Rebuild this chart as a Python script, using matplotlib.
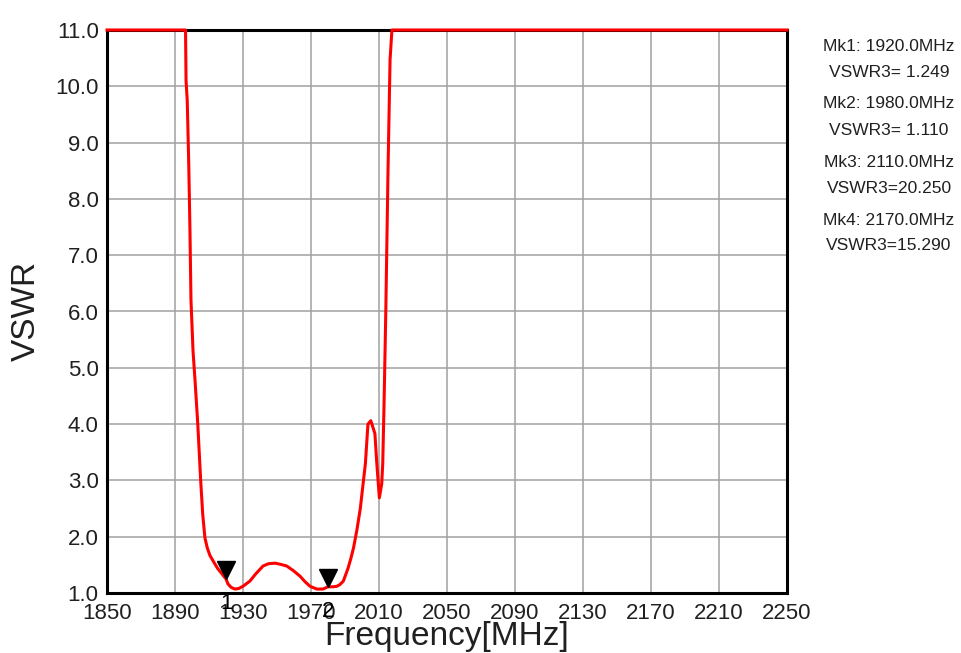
import matplotlib
matplotlib.use("Agg")
import matplotlib.pyplot as plt
from matplotlib.transforms import offset_copy
import numpy as np

# ---------------------------------------------------------------
#  Measured VSWR trace (values above the top of the scale are kept
#  and clipped to the display limit when drawn)
# ---------------------------------------------------------------
freq_mhz = [1850, 1870, 1890, 1895, 1896.2, 1896.5, 1897.2, 1898.1, 1898.8,
            1899.4, 1900.6, 1901.8, 1903.4, 1905.1, 1906.3, 1907.6, 1909,
            1910.5, 1912.4, 1915, 1917.6, 1920, 1921.2, 1923, 1925.3, 1927.5,
            1930, 1934, 1937.5, 1941.8, 1945, 1948.8, 1952, 1955.7, 1959.5,
            1963.5, 1966.5, 1969.4, 1973.4, 1977, 1980, 1983, 1985.3, 1987,
            1989, 1991.8, 1993.5, 1995, 1997, 1999, 2002, 2003.5, 2005.2,
            2007.6, 2008.6, 2010.2, 2011.6, 2012.2, 2013, 2014, 2015.3,
            2016.5, 2017.6, 2050, 2110, 2170, 2250]
vswr = [28.0, 24.0, 16.0, 12.5, 11.0, 10.1, 9.75, 8.6, 7.44,
        6.2, 5.3, 4.77, 4.0, 3.0, 2.40, 1.98, 1.80,
        1.67, 1.57, 1.44, 1.34, 1.249, 1.16, 1.10, 1.07, 1.08,
        1.12, 1.21, 1.34, 1.48, 1.52, 1.53, 1.51, 1.48, 1.40,
        1.30, 1.20, 1.12, 1.07, 1.07, 1.11, 1.11, 1.12, 1.15,
        1.21, 1.44, 1.62, 1.80, 2.12, 2.50, 3.30, 4.00, 4.06,
        3.83, 3.35, 2.69, 2.94, 3.30, 4.40, 6.00, 8.50,
        10.47, 11.3, 26.0, 20.25, 15.29, 13.0]

mk_freq = [1920.0, 1980.0, 2110.0, 2170.0]
mk_vswr = [1.249, 1.110, 20.250, 15.290]

x_ticks = list(range(1850, 2251, 40))
y_ticks = [1.0, 2.0, 3.0, 4.0, 5.0, 6.0, 7.0, 8.0, 9.0, 10.0, 11.0]
y_top = 11.0

plt.rcParams['font.family'] = ['Liberation Sans', 'DejaVu Sans']

W, H = 961, 653
fig = plt.figure(figsize=(W / 100, H / 100), dpi=100)
ax = fig.add_axes([107 / W, 1 - 593 / H, 680 / W, 563 / H])

# Trace, clipped at the top of the scale
ax.plot(freq_mhz, np.minimum(vswr, y_top), color='#ff0000', lw=2.2,
        clip_on=False, zorder=6)

ax.set_xlim(1850, 2250)
ax.set_ylim(1.0, y_top)
ax.set_xticks(x_ticks)
ax.set_yticks(y_ticks)
ax.set_yticklabels([f"{v:.1f}" for v in y_ticks])
ax.tick_params(axis='both', length=0, labelsize=16, colors='#202020')
ax.tick_params(axis='x', pad=7)
ax.tick_params(axis='y', pad=6)
ax.grid(True, color='#a0a0a0', lw=1.1)
ax.set_axisbelow(True)
for sp in ax.spines.values():
    sp.set_color('black')
    sp.set_linewidth(2.2)
    sp.set_zorder(5)

# Markers: triangle tip sits on the trace, number underneath the axis
tri_tr = offset_copy(ax.transData, fig=fig, x=0, y=6.2, units='points')
lab_tr = offset_copy(ax.transData, fig=fig, x=0, y=-10, units='points')
for i, (f, v) in enumerate(zip(mk_freq, mk_vswr), start=1):
    if v > y_top:
        continue
    ax.plot([f], [v], marker='v', color='black', ms=12.5, ls='none',
            transform=tri_tr, zorder=7)
    ax.text(f, v, str(i), transform=lab_tr, ha='center', va='top',
            fontsize=16, color='black', clip_on=False, zorder=7)

# Marker readout panel
baselines = [(51, 77), (108, 135), (167, 193), (225, 250)]
for i, (f, v) in enumerate(zip(mk_freq, mk_vswr), start=1):
    b1, b2 = baselines[i - 1]
    fig.text(889 / W, 1 - b1 / H, f"Mk{i}: {f:.1f}MHz", ha='center',
             va='baseline', fontsize=12.5, color='#202020')
    fig.text(889 / W, 1 - b2 / H, f"VSWR3={v:6.3f}", ha='center',
             va='baseline', fontsize=12.5, color='#202020')

fig.text(26 / W, 1 - 311 / H, "VSWR", rotation=90, ha='center',
         va='center', fontsize=24, color='#202020')
fig.text(447 / W, 1 - 645 / H, "Frequency[MHz]", ha='center',
         va='baseline', fontsize=24, color='#202020')

fig.savefig("out.png", dpi=100, facecolor='white')
